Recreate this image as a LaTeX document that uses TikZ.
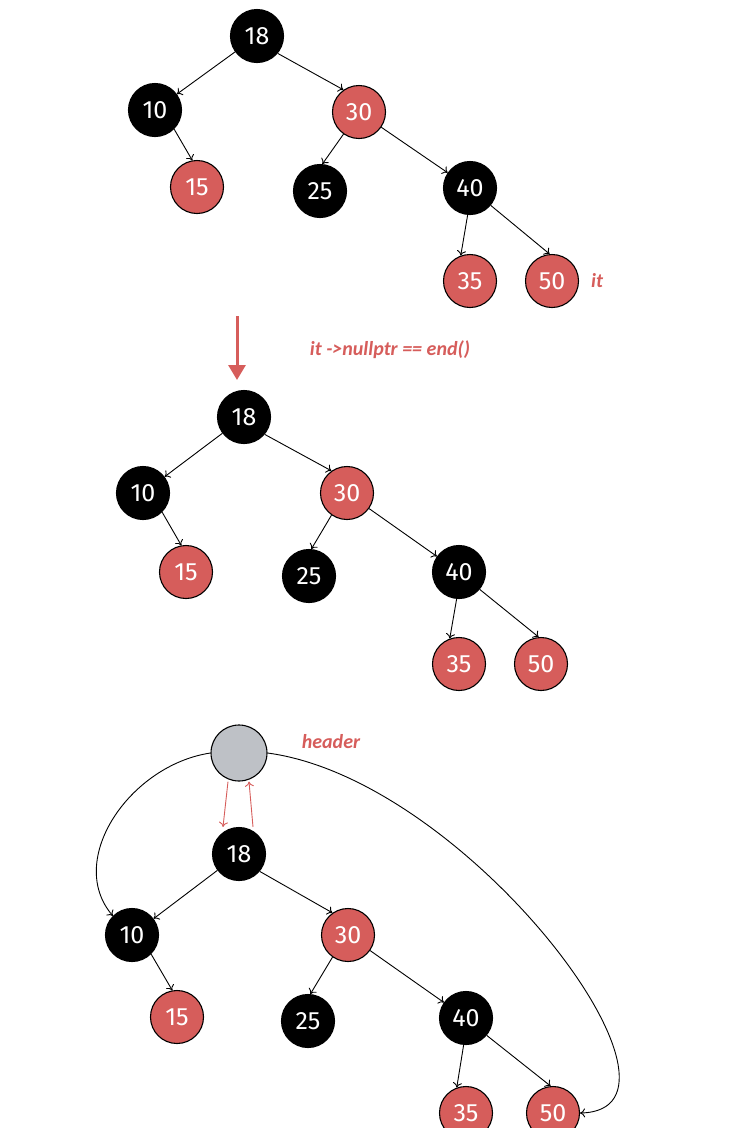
\documentclass[tikz,border=0pt]{standalone}
\usepackage{fontspec}
\setmainfont{Fira Sans}
\newfontfamily\lblfont{Carlito}
\usetikzlibrary{arrows.meta}
\definecolor{rbred}{RGB}{214,93,91}
\definecolor{hdrgray}{RGB}{190,193,198}
\tikzset{
  bnode/.style={circle, draw=black, fill=black, text=white, minimum size=53pt, inner sep=0pt, line width=1.1pt, font=\fontsize{25}{25}\selectfont},
  rnode/.style={circle, draw=black, fill=rbred, text=white, minimum size=53pt, inner sep=0pt, line width=1.1pt, font=\fontsize{25}{25}\selectfont},
  hnode/.style={circle, draw=black, fill=hdrgray, minimum size=56pt, inner sep=0pt, line width=1.1pt},
  lbl/.style={text=rbred, font=\lblfont\bfseries\itshape\fontsize{20}{20}\selectfont},
  edge/.style={->, >={To[length=5pt,width=9pt]}, line width=0.9pt},
  redge/.style={->, >={To[length=5pt,width=9pt]}, line width=0.9pt, draw=rbred}
}
\begin{document}
\begin{tikzpicture}[x=1pt,y=-1pt]
\useasboundingbox (0,0) rectangle (731,1128);
% tree before
\node[bnode] (a18) at (257,36) {18};
\node[bnode] (a10) at (155,110) {10};
\node[rnode] (a30) at (359,112) {30};
\node[rnode] (a15) at (197,187) {15};
\node[bnode] (a25) at (320,191) {25};
\node[bnode] (a40) at (470,188) {40};
\node[rnode] (a35) at (470,281) {35};
\node[rnode] (a50) at (552,281) {50};
\node[lbl] (it) at (597,281) {it};
\draw[edge] (a18) -- (a10);
\draw[edge] (a18.-40) -- (a30.125);
\draw[edge] (a10.-45) -- (a15.100);
\draw[edge] (a30.235) -- (a25.85);
\draw[edge] (a30) -- (a40);
\draw[edge] (a40.265) -- (a35.110);
\draw[edge] (a40.-40) -- (a50.95);
% step arrow
\coordinate (s) at (237,316);
\coordinate (e) at (237,380);
\draw[rbred, line width=3pt, -{Triangle[length=15pt,width=17pt]}] (s) -- (e);
\node[lbl] (nul) at (390,350) {it ->nullptr == end()};
% tree after
\node[bnode] (b18) at (244,417) {18};
\node[bnode] (b10) at (143,493) {10};
\node[rnode] (b30) at (347,493) {30};
\node[rnode] (b15) at (186,572) {15};
\node[bnode] (b25) at (309,576) {25};
\node[bnode] (b40) at (459,572) {40};
\node[rnode] (b35) at (459,664) {35};
\node[rnode] (b50) at (541,664) {50};
\draw[edge] (b18) -- (b10);
\draw[edge] (b18.-40) -- (b30.125);
\draw[edge] (b10.-45) -- (b15.100);
\draw[edge] (b30.235) -- (b25.85);
\draw[edge] (b30) -- (b40);
\draw[edge] (b40.265) -- (b35.110);
\draw[edge] (b40.-40) -- (b50.95);
% tree with header
\node[hnode] (hd) at (239,753) {};
\node[lbl] (hdl) at (331,742) {header};
\node[bnode] (c18) at (239,854) {18};
\node[bnode] (c10) at (132,935) {10};
\node[rnode] (c30) at (348,935) {30};
\node[rnode] (c15) at (177,1017) {15};
\node[bnode] (c25) at (308,1021) {25};
\node[bnode] (c40) at (466,1018) {40};
\node[rnode] (c35) at (466,1113) {35};
\node[rnode] (c50) at (553,1113) {50};
\draw[edge] (c18) -- (c10);
\draw[edge] (c18.-40) -- (c30.125);
\draw[edge] (c10.-45) -- (c15.100);
\draw[edge] (c30.235) -- (c25.85);
\draw[edge] (c30) -- (c40);
\draw[edge] (c40.265) -- (c35.110);
\draw[edge] (c40.-40) -- (c50.95);
\draw[redge] ([xshift=-11pt]hd.south) -- ([xshift=-16pt]c18.north);
\draw[redge] ([xshift=14pt]c18.north) -- ([xshift=10pt]hd.south);
\draw[edge] (hd.west) .. controls (130,765) and (65,860) .. (c10.north west);
\draw[edge] (hd.east) .. controls (470,780) and (715,1110) .. (c50.east);
\end{tikzpicture}
\end{document}
